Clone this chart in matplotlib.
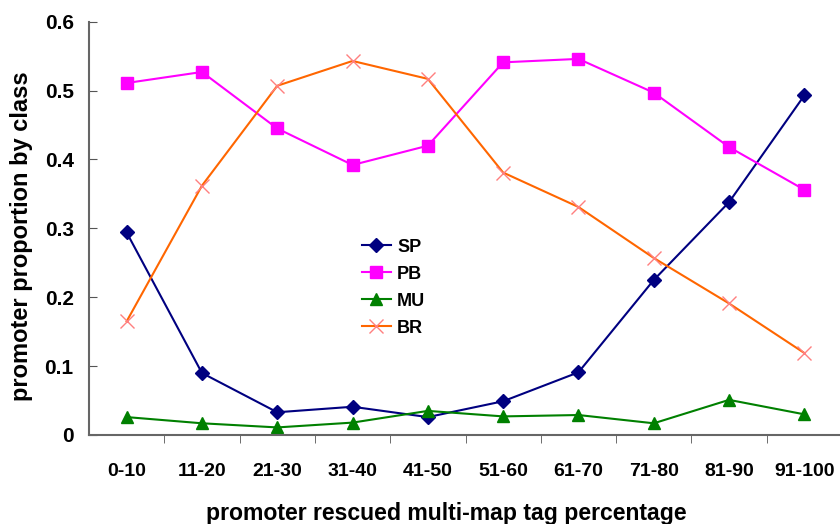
import matplotlib.pyplot as plt
import numpy as np

categories = ['0-10', '11-20', '21-30', '31-40', '41-50',
              '51-60', '61-70', '71-80', '81-90', '91-100']
sp = [0.294, 0.090, 0.033, 0.041, 0.026, 0.049, 0.091, 0.225, 0.338, 0.493]
pb = [0.511, 0.527, 0.445, 0.392, 0.420, 0.541, 0.546, 0.497, 0.418, 0.356]
mu = [0.026, 0.017, 0.011, 0.018, 0.035, 0.027, 0.029, 0.017, 0.051, 0.030]
br = [0.165, 0.362, 0.507, 0.543, 0.517, 0.381, 0.331, 0.257, 0.191, 0.119]
yticks = [0, 0.1, 0.2, 0.3, 0.4, 0.5, 0.6]
ytick_labels = ['0', '0.1', '0.2', '0.3', '0.4', '0.5', '0.6']

plt.rcParams['font.family'] = ['Liberation Sans', 'DejaVu Sans']
plt.rcParams['font.weight'] = 'bold'

fig = plt.figure(figsize=(8.4, 5.24), dpi=100)
ax = fig.add_axes([89 / 840, 89 / 524, 753 / 840, 413.3 / 524])

x = np.arange(len(categories))
ax.plot(x, sp, color='#000080', marker='D', markersize=7, lw=1.5, label='SP')
ax.plot(x, pb, color='#FF00FF', marker='s', markersize=8.5, lw=1.5, label='PB')
ax.plot(x, mu, color='#008000', marker='^', markersize=9, lw=1.5, label='MU')
ax.plot(x, br, color='#FF6600', marker='x', markersize=10, lw=1.5,
        markeredgecolor='#FF7F7F', markeredgewidth=1, label='BR')

ax.set_xlim(-0.5, len(categories) - 0.5)
ax.set_ylim(0, 0.6)
ax.set_yticks(yticks)
ax.set_yticklabels(ytick_labels, fontsize=15, fontweight='bold')
ax.set_xticks(x)
ax.set_xticklabels(categories, fontsize=14, fontweight='bold')
ax.tick_params(axis='x', which='major', length=0, pad=20)
ax.set_xticks(np.arange(0.5, len(categories) - 0.5, 1), minor=True)
ax.tick_params(axis='x', which='minor', direction='out', length=6, color='#555555')
ax.tick_params(axis='y', direction='in', length=6, color='#555555', pad=11)

for side in ['top', 'right']:
    ax.spines[side].set_visible(False)
for side in ['left', 'bottom']:
    ax.spines[side].set_color('#666666')
    ax.spines[side].set_linewidth(1.5)

# axis titles placed like the original (slightly off-centre)
fig.text(22 / 840, (524 - 236) / 524, 'promoter proportion by class', rotation=90,
         ha='center', va='center', fontsize=17, fontweight='bold')
fig.text(446 / 840, 4 / 524, 'promoter rescued multi-map tag percentage',
         ha='center', va='baseline', fontsize=16.6, fontweight='bold')

leg = ax.legend(loc='upper left', bbox_to_anchor=(0.341, 0.514), frameon=False,
                fontsize=13, handlelength=1.6, labelspacing=0.55, handletextpad=0.35)

fig.savefig('out.png', dpi=100)
